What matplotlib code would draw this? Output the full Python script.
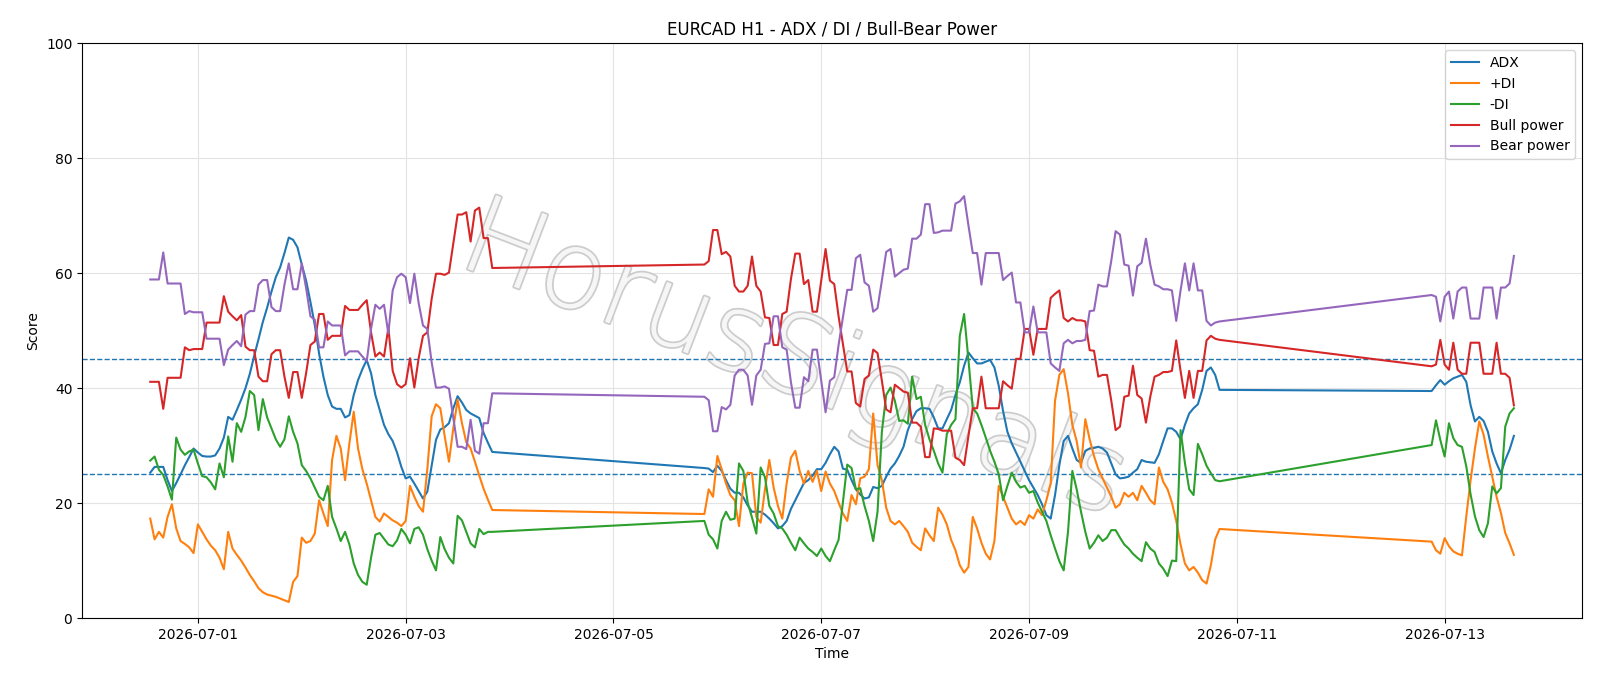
import matplotlib
matplotlib.use("Agg")
import matplotlib.pyplot as plt
import matplotlib.dates as mdates
import matplotlib.patheffects as pe
import pandas as pd

# ---- data -------------------------------------------------------------
segment_starts = ["2026-06-30 13:00", "2026-07-05 21:00", "2026-07-12 21:00"]
segment_lengths = [80, 120, 20]

adx = [
    25.3, 26.3, 26.3, 26.3, 24.0, 22.1, 23.5, 25.0, 26.6, 28.0, 29.5,
    28.8, 28.2, 28.1, 28.1, 28.3, 29.5, 31.4, 35.0, 34.5, 36.2,
    38.0, 40.0, 42.5, 45.6, 48.5, 51.5, 54.0, 56.8, 59.3, 61.0,
    63.5, 66.2, 65.8, 64.5, 61.5, 58.7, 55.0, 51.0, 46.0, 42.0,
    38.8, 36.8, 36.4, 36.4, 34.9, 35.3, 38.8, 41.4, 43.3, 44.9,
    42.6, 38.8, 36.2, 33.6, 32.0, 30.8, 28.8, 26.3, 24.3, 24.6,
    23.4, 22.1, 20.8, 22.0, 26.5, 31.0, 32.8, 33.2, 33.9, 36.5,
    38.6, 37.5, 36.2, 35.6, 35.2, 34.8, 32.2, 30.5, 28.9,
    26.1, 26.0, 25.4, 26.5, 25.6, 24.0, 22.5, 21.8, 21.8, 21.0,
    19.6, 18.5, 18.5, 18.5, 18.0, 17.3, 16.5, 15.6, 16.0, 16.9,
    19.0, 20.5, 22.0, 23.5, 24.0, 24.8, 25.9, 25.9, 27.0, 28.5,
    29.8, 29.0, 26.0, 25.8, 24.0, 22.4, 21.5, 20.8, 21.0, 22.8,
    22.6, 23.0, 24.6, 26.0, 26.9, 28.2, 29.8, 32.7, 34.6, 36.0,
    36.5, 36.5, 36.4, 34.9, 33.0, 33.0, 34.6, 36.2, 38.8, 41.0,
    43.9, 46.2, 45.2, 44.3, 44.3, 44.6, 44.9, 43.6, 40.4, 36.0,
    32.4, 30.4, 28.8, 27.2, 25.6, 24.0, 22.7, 21.4, 19.8, 17.9,
    17.3, 21.4, 26.6, 30.8, 31.7, 29.5, 27.5, 27.0, 29.1, 29.5,
    29.6, 29.8, 29.5, 28.8, 26.9, 25.0, 24.3, 24.4, 24.6, 25.3,
    25.9, 27.5, 27.2, 27.1, 27.0, 28.5, 30.8, 33.0, 33.0, 32.4,
    31.1, 33.6, 35.6, 36.5, 37.2, 39.7, 43.0, 43.6, 42.3, 39.7,
    39.5, 40.5, 41.4, 40.6, 41.2, 41.7, 42.0, 42.3, 41.1, 37.0,
    34.2, 35.0, 34.3, 32.4, 29.0, 26.9, 25.2, 27.5, 29.3, 31.7,
]

plus_di = [
    17.3, 13.7, 15.0, 14.0, 17.6, 19.8, 15.6, 13.4, 12.9, 12.3, 11.3,
    16.3, 15.0, 13.7, 12.6, 11.8, 10.5, 8.5, 15.0, 12.1, 11.0,
    10.0, 8.8, 7.5, 6.4, 5.2, 4.5, 4.1, 3.9, 3.7, 3.4,
    3.1, 2.8, 6.3, 7.3, 14.0, 13.1, 13.4, 14.7, 20.5, 18.2,
    16.0, 27.5, 31.7, 29.5, 24.0, 30.4, 35.9, 29.5, 25.9, 23.4,
    20.5, 17.6, 16.8, 18.2, 17.6, 17.0, 16.6, 16.0, 16.9, 23.0,
    21.1, 19.5, 18.5, 25.9, 35.1, 37.2, 36.5, 31.7, 27.2, 33.0,
    38.0, 33.9, 30.6, 29.5, 27.2, 24.8, 22.5, 20.6, 18.8,
    18.1, 22.4, 21.1, 28.2, 25.9, 23.4, 21.4, 20.5, 16.0, 23.4,
    25.3, 25.2, 17.6, 16.6, 22.4, 27.5, 22.7, 19.5, 17.3, 23.4,
    27.9, 29.1, 25.6, 23.4, 25.6, 23.7, 25.6, 22.1, 25.5, 23.4,
    22.1, 20.1, 18.2, 16.9, 21.4, 19.8, 24.3, 24.6, 25.9, 35.6,
    26.6, 24.0, 19.2, 16.9, 16.3, 16.9, 16.0, 15.0, 13.1, 12.4,
    11.8, 15.6, 14.4, 13.4, 19.2, 18.0, 16.3, 13.6, 11.8, 9.2,
    7.9, 8.9, 17.6, 15.6, 13.1, 11.2, 10.2, 13.4, 23.0, 21.1,
    19.2, 17.3, 16.3, 16.9, 16.2, 17.9, 17.3, 18.9, 17.9, 20.5,
    23.4, 37.8, 42.3, 43.3, 39.1, 33.6, 30.8, 26.2, 34.6, 31.1,
    28.2, 25.9, 24.3, 22.7, 21.1, 19.2, 19.8, 21.8, 21.1, 21.8,
    20.5, 23.0, 21.8, 20.5, 19.8, 26.2, 23.7, 22.4, 20.1, 16.9,
    12.8, 9.5, 8.3, 8.9, 7.9, 6.6, 6.0, 9.2, 13.7, 15.5,
    13.3, 11.8, 11.2, 13.9, 12.5, 11.6, 11.2, 10.9, 17.7, 24.0,
    29.5, 34.2, 31.9, 28.1, 24.6, 21.1, 18.3, 14.8, 13.0, 11.0,
]

minus_di = [
    27.4, 28.1, 25.8, 24.9, 22.9, 20.6, 31.4, 29.3, 28.4, 29.0, 29.3,
    26.9, 24.7, 24.5, 23.6, 22.4, 26.9, 24.5, 31.6, 27.2, 33.9,
    32.4, 35.0, 39.5, 38.8, 32.7, 38.1, 34.9, 33.0, 31.1, 29.8,
    31.1, 35.1, 32.4, 30.4, 26.6, 25.6, 24.3, 22.7, 21.1, 20.5,
    23.0, 17.6, 15.6, 13.4, 15.0, 12.8, 9.5, 7.5, 6.3, 5.8,
    10.5, 14.5, 14.8, 13.8, 12.8, 12.5, 13.5, 15.5, 14.5, 13.0,
    15.5, 15.8, 14.5, 12.0, 10.0, 8.3, 14.1, 12.0, 10.5, 9.5,
    17.8, 17.0, 15.0, 13.0, 12.3, 15.5, 14.6, 15.0, 15.0,
    16.9, 14.5, 13.7, 12.1, 16.9, 18.5, 17.1, 17.3, 26.9, 25.6,
    20.1, 17.5, 14.7, 26.2, 24.5, 19.5, 18.2, 16.0, 15.6, 14.5,
    13.1, 11.8, 14.0, 13.0, 12.1, 11.5, 10.8, 12.1, 10.8, 9.9,
    11.8, 13.6, 20.1, 26.7, 26.1, 22.4, 22.6, 19.5, 16.9, 13.4,
    18.5, 32.4, 38.8, 40.1, 37.8, 34.3, 34.4, 33.8, 42.0, 38.1,
    38.5, 33.6, 31.1, 29.1, 26.9, 25.3, 32.0, 33.6, 34.6, 49.1,
    52.9, 44.9, 36.5, 35.6, 33.6, 31.4, 29.1, 27.2, 25.0, 20.5,
    23.0, 25.3, 23.7, 22.7, 23.0, 21.8, 22.1, 20.1, 18.5, 16.9,
    14.4, 12.1, 9.9, 8.3, 15.0, 25.6, 22.4, 18.5, 15.0, 12.1,
    13.1, 14.4, 13.4, 14.0, 15.3, 15.3, 14.0, 12.8, 12.1, 11.2,
    10.5, 9.9, 13.2, 12.1, 11.5, 9.5, 8.6, 7.3, 10.0, 9.9,
    32.7, 27.0, 22.4, 21.4, 30.3, 28.5, 26.5, 25.2, 24.0, 23.8,
    30.1, 34.4, 31.0, 28.1, 33.9, 31.3, 30.1, 29.8, 26.4, 21.5,
    17.7, 15.3, 14.1, 16.5, 22.9, 21.7, 22.6, 33.3, 35.6, 36.5,
]

bull_power = [
    41.1, 41.1, 41.1, 36.4, 41.8, 41.8, 41.8, 41.8, 47.1, 46.6, 46.8,
    46.8, 46.8, 51.4, 51.4, 51.4, 51.4, 56.0, 53.3, 52.5, 51.8,
    52.7, 47.2, 46.6, 46.6, 42.0, 41.2, 41.2, 45.9, 46.6, 46.6,
    42.0, 38.3, 42.8, 42.8, 38.3, 42.6, 47.5, 48.1, 52.9, 52.9,
    48.4, 49.1, 49.1, 49.1, 54.3, 53.6, 53.6, 53.6, 54.5, 55.3,
    49.7, 45.5, 46.2, 45.5, 50.5, 43.0, 40.7, 40.1, 40.7, 45.2,
    40.1, 45.2, 49.1, 49.7, 55.5, 59.9, 59.9, 59.7, 60.1, 65.1,
    70.2, 70.2, 70.6, 65.5, 70.9, 71.4, 66.1, 66.1, 60.9,
    61.5, 62.1, 67.5, 67.5, 63.3, 63.7, 62.9, 57.8, 56.8, 56.8,
    57.8, 62.9, 57.8, 56.8, 52.3, 52.2, 47.5, 47.5, 52.9, 53.3,
    59.0, 63.4, 63.4, 58.1, 58.8, 53.3, 53.3, 58.7, 64.2, 58.7,
    58.1, 52.5, 47.7, 42.9, 42.9, 37.4, 36.8, 41.6, 42.2, 46.7,
    46.1, 41.3, 36.3, 35.8, 40.6, 40.0, 39.4, 39.2, 34.0, 34.0,
    33.3, 28.0, 28.0, 33.0, 32.9, 32.6, 32.6, 32.6, 27.9, 27.5,
    26.6, 31.7, 36.5, 36.5, 42.0, 36.5, 36.5, 36.5, 36.5, 41.2,
    40.5, 39.9, 45.1, 45.1, 50.3, 50.3, 45.8, 50.3, 50.3, 50.3,
    55.7, 56.4, 57.0, 52.2, 51.6, 52.2, 51.8, 51.8, 51.6, 46.6,
    46.5, 42.0, 42.3, 42.3, 37.8, 32.7, 33.3, 38.5, 38.7, 43.9,
    38.8, 38.2, 34.0, 38.5, 42.0, 42.3, 42.8, 42.8, 43.0, 48.3,
    43.0, 38.3, 43.0, 38.3, 43.0, 43.0, 48.3, 49.1, 48.6, 48.4,
    43.8, 44.1, 48.4, 44.1, 43.2, 47.9, 43.2, 42.5, 42.5, 47.9,
    47.9, 47.9, 42.5, 42.5, 42.5, 47.9, 42.5, 42.5, 41.8, 37.0,
]

bear_power = [
    58.9, 58.9, 58.9, 63.6, 58.2, 58.2, 58.2, 58.2, 52.9, 53.4, 53.2,
    53.2, 53.2, 48.6, 48.6, 48.6, 48.6, 44.0, 46.7, 47.5, 48.2,
    47.3, 52.8, 53.4, 53.4, 58.0, 58.8, 58.8, 54.1, 53.4, 53.4,
    58.0, 61.7, 57.2, 57.2, 61.7, 57.4, 52.5, 51.9, 47.1, 47.1,
    51.6, 50.9, 50.9, 50.9, 45.7, 46.4, 46.4, 46.4, 45.5, 44.7,
    50.3, 54.5, 53.8, 54.5, 49.5, 57.0, 59.3, 59.9, 59.3, 54.8,
    59.9, 54.8, 50.9, 50.3, 44.5, 40.1, 40.1, 40.3, 39.9, 34.9,
    29.8, 29.8, 29.4, 34.5, 29.1, 28.6, 33.9, 33.9, 39.1,
    38.5, 37.9, 32.5, 32.5, 36.7, 36.3, 37.1, 42.2, 43.2, 43.2,
    42.2, 37.1, 42.2, 43.2, 47.7, 47.8, 52.5, 52.5, 47.1, 46.7,
    41.0, 36.6, 36.6, 41.9, 41.2, 46.7, 46.7, 41.3, 35.8, 41.3,
    41.9, 47.5, 52.3, 57.1, 57.1, 62.6, 63.2, 58.4, 57.8, 53.3,
    53.9, 58.7, 63.7, 64.2, 59.4, 60.0, 60.6, 60.8, 66.0, 66.0,
    66.7, 72.0, 72.0, 67.0, 67.1, 67.4, 67.4, 67.4, 72.1, 72.5,
    73.4, 68.3, 63.5, 63.5, 58.0, 63.5, 63.5, 63.5, 63.5, 58.8,
    59.5, 60.1, 54.9, 54.9, 49.7, 49.7, 54.2, 49.7, 49.7, 49.7,
    44.3, 43.6, 43.0, 47.8, 48.4, 47.8, 48.2, 48.2, 48.4, 53.4,
    53.5, 58.0, 57.7, 57.7, 62.2, 67.3, 66.7, 61.5, 61.3, 56.1,
    61.2, 61.8, 66.0, 61.5, 58.0, 57.7, 57.2, 57.2, 57.0, 51.7,
    57.0, 61.7, 57.0, 61.7, 57.0, 57.0, 51.7, 50.9, 51.4, 51.6,
    56.2, 55.9, 51.6, 55.9, 56.8, 52.1, 56.8, 57.5, 57.5, 52.1,
    52.1, 52.1, 57.5, 57.5, 57.5, 52.1, 57.5, 57.5, 58.2, 63.0,
]

threshold_levels = [25, 45]
tick_dates = ["2026-07-01", "2026-07-03", "2026-07-05", "2026-07-07",
              "2026-07-09", "2026-07-11", "2026-07-13"]
series_labels = ["ADX", "+DI", "-DI", "Bull power", "Bear power"]

# ---- build time index -------------------------------------------------
times = pd.DatetimeIndex([])
for start, n in zip(segment_starts, segment_lengths):
    times = times.append(pd.date_range(start, periods=n, freq="h"))

# ---- plot -------------------------------------------------------------
fig = plt.figure(figsize=(16, 6.86), dpi=100)
ax = fig.add_axes([0.0513, 0.099, 0.9375, 0.838])

colors = ["#1f77b4", "#ff7f0e", "#2ca02c", "#d62728", "#9467bd"]
for vals, lab, c in zip([adx, plus_di, minus_di, bull_power, bear_power],
                        series_labels, colors):
    ax.plot(times, vals, label=lab, color=c, linewidth=1.5, zorder=3)

for lvl in threshold_levels:
    ax.axhline(lvl, color="#1f77b4", linestyle="--", linewidth=1.0, zorder=2)

ax.set_ylim(0, 100)
ax.set_xticks(pd.to_datetime(tick_dates))
ax.xaxis.set_major_formatter(mdates.DateFormatter("%Y-%m-%d"))
ax.grid(True, color="#e3e3e3", linewidth=0.8, zorder=0)
ax.set_axisbelow(True)
ax.tick_params(labelsize=10)

ax.set_title("EURCAD H1 - ADX / DI / Bull-Bear Power", fontsize=12)
ax.set_xlabel("Time", fontsize=10)
ax.set_ylabel("Score", fontsize=10)
ax.legend(loc="upper right", fontsize=10)

wm = ax.text(0.475, 0.445, "HorusSignals", transform=ax.transAxes,
             fontsize=78, color="#f6f6f6", rotation=-21, ha="center",
             va="center", fontweight="light", zorder=1)
wm.set_path_effects([pe.Stroke(linewidth=2.5, foreground="#cccccc"),
                     pe.Normal()])

fig.savefig("out.png", dpi=100)
